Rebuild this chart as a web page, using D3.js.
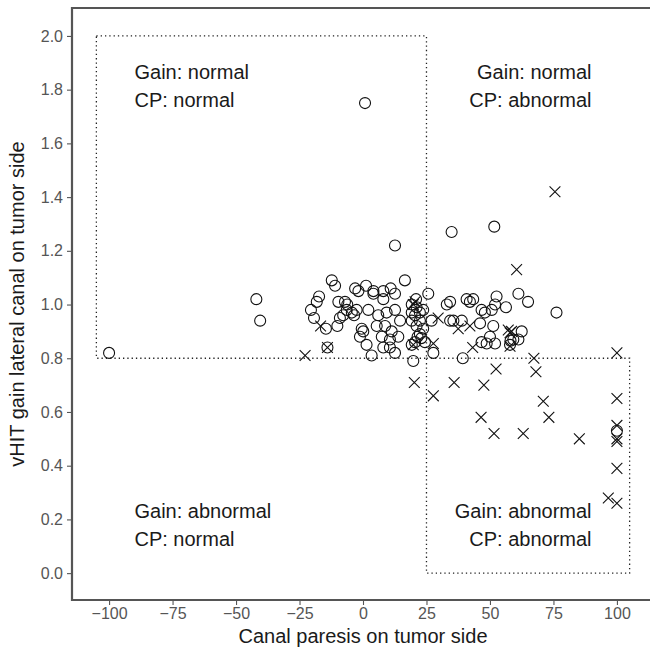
<!DOCTYPE html>
<html>
<head>
<meta charset="utf-8">
<script src="https://cdn.jsdelivr.net/npm/d3@7"></script>
<style>
  body { margin: 0; background: #fff; }
  svg { font-family: "Liberation Sans", Arial, sans-serif; }
</style>
</head>
<body>
<svg width="650" height="650"></svg>
<script>
// open circles
const circleCP = [-100, -42, -40.5, 0.8, 12.6, 34.9, 51.7, 16.5, 76.2, 61.2, 65,
  -12.3, -11, -17.3, -18.2, -20.5, -19.3, -14.6, -14, -3.1, -1.8, 1.2, 4.1, 4.1, 8, 8, 10.9, 12.6,
  -9.7, -7.1, -6.2, -6.4, -7.8, -9.1, -10.1, -4.4, -2.5, -3.5, 2.1, 6, 9.3, 12.6, 14.6, 5.4, 8.7,
  11.3, -0.5, 0.1, -1.2, 7.4, 10.6, 13.9, 1.4, 8, 10.6, 12.6, 3.4,
  19.2, 20.5, 19.2, 21.1, 22.4, 23.7, 22.4, 19.2, 25.7, 21.1, 23.7, 22.4, 21.5, 23, 24.4, 20.5,
  19.2, 27.7, 19.8, 27, 20.9,
  33, 34.3, 40.8, 42.1, 43.4, 46.7, 48, 50.7, 52.6, 52, 56.3, 34.3, 35.6, 38.9, 46.1, 51.3, 50,
  46.7, 48.7, 52, 62.5, 59.2, 61.2, 58.1, 57.9, 39.3, 100];
const circleGain = [0.82, 1.02, 0.94, 1.75, 1.22, 1.27, 1.29, 1.09, 0.97, 1.04, 1.01,
  1.09, 1.07, 1.03, 1.01, 0.98, 0.95, 0.91, 0.84, 1.06, 1.05, 1.07, 1.05, 1.04, 1.05, 1.02, 1.06, 1.04,
  1.01, 1.01, 1.0, 0.98, 0.96, 0.95, 0.92, 0.97, 0.98, 0.96, 0.98, 0.96, 0.97, 0.98, 0.94, 0.92, 0.92,
  0.90, 0.91, 0.90, 0.88, 0.88, 0.87, 0.88, 0.85, 0.84, 0.84, 0.82, 0.81,
  0.97, 0.96, 1.0, 0.99, 0.97, 0.98, 0.94, 0.94, 1.04, 0.92, 0.91, 0.89, 0.88, 0.875, 0.86, 0.86,
  0.85, 0.82, 0.79, 0.94, 1.02,
  1.0, 1.01, 1.02, 1.01, 1.02, 0.98, 0.97, 0.98, 1.03, 1.0, 0.99, 0.94, 0.94, 0.94, 0.93, 0.92, 0.88,
  0.86, 0.855, 0.855, 0.90, 0.87, 0.87, 0.865, 0.85, 0.80, 0.53];

// crosses
const crossCP = [75.6, 60.5, -16.7, -14, -22.8, 20.5, 19.8, 29.6, 37.5, 42.1, 27.7, 43.2, 19.8,
  57.2, 58.5, 57.9, 57.9, 100, 67.3, 52.4, 68.1, 20.2, 35.9, 47.6, 27.7, 71, 100, 73.2, 46.5,
  51.6, 63.1, 85.2, 100, 100, 100, 100, 96.6, 100];
const crossGain = [1.42, 1.13, 0.92, 0.84, 0.81, 1.01, 1.0, 0.95, 0.91, 0.92, 0.855, 0.84, 0.85,
  0.905, 0.90, 0.895, 0.845, 0.82, 0.80, 0.76, 0.75, 0.71, 0.71, 0.70, 0.66, 0.64, 0.65, 0.58, 0.58,
  0.52, 0.52, 0.50, 0.55, 0.50, 0.49, 0.39, 0.28, 0.26];

const xTicks = [-100, -75, -50, -25, 0, 25, 50, 75, 100];
const yTicks = [0, 0.2, 0.4, 0.6, 0.8, 1.0, 1.2, 1.4, 1.6, 1.8, 2.0];

// quadrant boxes [x0, x1, y0, y1] and labels
const boxes = [[-105, 25, 0.8, 2.0], [25, 105, 0, 0.8]];
const labelText = [["Gain: normal", "CP: normal"], ["Gain: normal", "CP: abnormal"],
  ["Gain: abnormal", "CP: normal"], ["Gain: abnormal", "CP: abnormal"]];
const labelX = [-90, 90, -90, 90];
const labelY = [1.865, 1.865, 0.23, 0.23];
const labelAnchor = ["start", "end", "start", "end"];

const svg = d3.select("svg");
const margin = {left: 72, top: 8, bottom: 600};

const x = d3.scaleLinear().domain([-114.6, 114.6]).range([72, 654]);
const y = d3.scaleLinear().domain([-0.1, 2.104]).range([600, 8]);

const axisCol = "#555";

// dotted boxes
boxes.forEach(function (b) {
    svg.append("rect")
        .attr("x", x(b[0])).attr("y", y(b[3]))
        .attr("width", x(b[1]) - x(b[0])).attr("height", y(b[2]) - y(b[3]))
        .attr("fill", "none").attr("stroke", "#222")
        .attr("stroke-width", 1.3)
        .attr("stroke-dasharray", "1.3,3");
});

// labels
labelText.forEach(function (lines, i) {
    lines.forEach(function (t, j) {
        svg.append("text")
            .attr("x", x(labelX[i]))
            .attr("y", y(labelY[i]) + j * 28)
            .attr("dy", "0.35em")
            .attr("text-anchor", labelAnchor[i])
            .attr("font-size", 20)
            .attr("fill", "#1a1a1a")
            .text(t);
    });
});

// points
const circles = circleCP.map(function (d, i) { return {cp: d, gain: circleGain[i]}; });
const crosses = crossCP.map(function (d, i) { return {cp: d, gain: crossGain[i]}; });

svg.append("g").selectAll("circle")
    .data(circles)
    .enter().append("circle")
    .attr("cx", function (d) { return x(d.cp); })
    .attr("cy", function (d) { return y(d.gain); })
    .attr("r", 5.5)
    .attr("fill", "none")
    .attr("stroke", "#111")
    .attr("stroke-width", 1.1);

const s = 5.4;
svg.append("g").selectAll("path")
    .data(crosses)
    .enter().append("path")
    .attr("d", function (d) {
        const cx = x(d.cp), cy = y(d.gain);
        return "M" + (cx - s) + "," + (cy - s) + "L" + (cx + s) + "," + (cy + s) +
            "M" + (cx - s) + "," + (cy + s) + "L" + (cx + s) + "," + (cy - s);
    })
    .attr("stroke", "#111")
    .attr("stroke-width", 1.1)
    .attr("fill", "none");

// axes
const xAxis = svg.append("g")
    .attr("transform", "translate(0," + margin.bottom + ")")
    .call(d3.axisBottom(x).tickValues(xTicks).tickSize(5).tickPadding(3)
        .tickFormat(function (d) { return d < 0 ? "\u2212" + Math.abs(d) : d; }));
const yAxis = svg.append("g")
    .attr("transform", "translate(" + margin.left + ",0)")
    .call(d3.axisLeft(y).tickValues(yTicks).tickSize(5).tickPadding(4).tickFormat(d3.format(".1f")));

[xAxis, yAxis].forEach(function (a) {
    a.select(".domain").remove();
    a.selectAll(".tick line").attr("stroke", axisCol).attr("stroke-width", 1.1);
    a.selectAll(".tick text").attr("fill", "#555").attr("font-size", 16)
        .attr("font-family", "Liberation Sans, Arial, sans-serif");
});

// panel border (left, top, bottom)
svg.append("path")
    .attr("d", "M660," + margin.top + "H" + margin.left + "V" + margin.bottom + "H660")
    .attr("fill", "none")
    .attr("stroke", axisCol)
    .attr("stroke-width", 2.2);

// axis titles
svg.append("text")
    .attr("x", 363).attr("y", 643)
    .attr("text-anchor", "middle")
    .attr("font-size", 20)
    .attr("fill", "#1a1a1a")
    .text("Canal paresis on tumor side");

svg.append("text")
    .attr("transform", "translate(24,304) rotate(-90)")
    .attr("text-anchor", "middle")
    .attr("font-size", 20)
    .attr("fill", "#1a1a1a")
    .text("vHIT gain lateral canal on tumor side");
</script>
</body>
</html>
